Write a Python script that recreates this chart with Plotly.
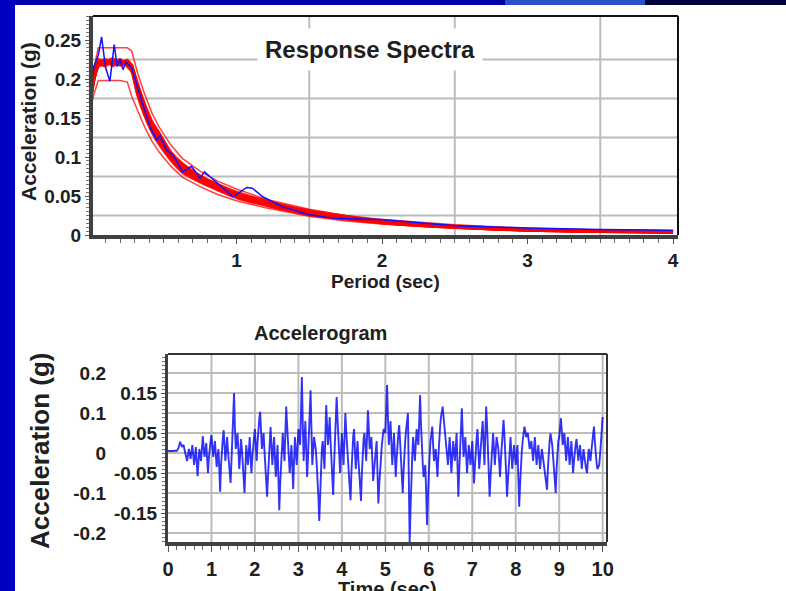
import plotly.graph_objects as go

# ---------------- data: response spectra ----------------
period = [0, 0.02, 0.05, 0.1, 0.15, 0.2, 0.25, 0.28, 0.32, 0.37, 0.42, 0.47, 0.55,
          0.63, 0.75, 0.87, 1.0, 1.2, 1.5, 1.75, 2.0, 2.5, 3.0, 3.5, 4.0]

spec_upper = [0.195, 0.215, 0.24, 0.24, 0.24, 0.24, 0.24, 0.236, 0.208, 0.18, 0.156, 0.138, 0.115,
              0.098, 0.082, 0.069, 0.059, 0.046, 0.033, 0.025, 0.020, 0.013, 0.0085, 0.0065, 0.0055]
spec_lower = [0.165, 0.18, 0.198, 0.198, 0.198, 0.198, 0.196, 0.178, 0.16, 0.138, 0.12, 0.106, 0.088,
              0.074, 0.062, 0.052, 0.044, 0.035, 0.024, 0.018, 0.014, 0.0085, 0.0055, 0.004, 0.003]

red_1 = [0.18, 0.205, 0.222, 0.219, 0.224, 0.218, 0.221, 0.216, 0.194, 0.165, 0.142, 0.129, 0.104,
         0.09, 0.075, 0.064, 0.053, 0.043, 0.03, 0.023, 0.0175, 0.011, 0.0068, 0.0052, 0.0042]
red_2 = [0.175, 0.198, 0.218, 0.224, 0.217, 0.223, 0.219, 0.212, 0.18, 0.153, 0.132, 0.116, 0.096,
         0.08, 0.068, 0.058, 0.048, 0.038, 0.026, 0.0205, 0.0155, 0.0098, 0.006, 0.0045, 0.0034]
red_3 = [0.185, 0.202, 0.225, 0.221, 0.22, 0.225, 0.216, 0.21, 0.19, 0.16, 0.139, 0.125, 0.101,
         0.086, 0.073, 0.063, 0.051, 0.042, 0.028, 0.022, 0.0165, 0.0105, 0.0065, 0.0049, 0.0038]
red_4 = [0.178, 0.2, 0.216, 0.222, 0.226, 0.219, 0.223, 0.218, 0.186, 0.156, 0.134, 0.119, 0.098,
         0.082, 0.07, 0.06, 0.049, 0.039, 0.027, 0.021, 0.016, 0.01, 0.0062, 0.0046, 0.0036]
red_5 = [0.182, 0.207, 0.221, 0.225, 0.219, 0.22, 0.224, 0.214, 0.192, 0.167, 0.145, 0.13, 0.106,
         0.091, 0.076, 0.065, 0.055, 0.044, 0.031, 0.024, 0.018, 0.0115, 0.0072, 0.0055, 0.0044]
red_6 = [0.176, 0.2, 0.219, 0.217, 0.223, 0.221, 0.218, 0.215, 0.184, 0.158, 0.137, 0.122, 0.1,
         0.084, 0.071, 0.061, 0.05, 0.04, 0.0285, 0.0215, 0.0165, 0.0103, 0.0066, 0.005, 0.004]
red_7 = [0.179, 0.203, 0.22, 0.223, 0.221, 0.224, 0.22, 0.217, 0.189, 0.162, 0.141, 0.127, 0.103,
         0.088, 0.074, 0.062, 0.052, 0.041, 0.029, 0.0225, 0.017, 0.0108, 0.007, 0.0053, 0.0041]
red_8 = [0.177, 0.199, 0.217, 0.22, 0.222, 0.218, 0.222, 0.211, 0.182, 0.155, 0.135, 0.121, 0.097,
         0.083, 0.069, 0.059, 0.049, 0.039, 0.027, 0.021, 0.0158, 0.0098, 0.0061, 0.0046, 0.0035]
red_spectra = [red_1, red_2, red_3, red_4, red_5, red_6, red_7, red_8]

blue_period = [0.0, 0.02, 0.05, 0.073, 0.1, 0.13, 0.16, 0.18, 0.2, 0.22, 0.24, 0.28, 0.35, 0.405,
               0.45, 0.474, 0.52, 0.565, 0.63, 0.69, 0.75, 0.78, 0.86, 0.976, 1.07, 1.11, 1.18,
               1.32, 1.5, 1.69, 2.0, 2.5, 3.0, 3.5, 4.0]
blue_spec = [0.19, 0.216, 0.23, 0.254, 0.215, 0.197, 0.244, 0.216, 0.225, 0.212, 0.222, 0.214,
             0.171, 0.139, 0.122, 0.127, 0.109, 0.102, 0.081, 0.088, 0.073, 0.081, 0.068, 0.049,
             0.061, 0.06, 0.049, 0.036, 0.026, 0.021, 0.02, 0.012, 0.009, 0.007, 0.006]

spec_xticks = [1, 2, 3, 4]
spec_yticks = [0, 0.05, 0.1, 0.15, 0.2, 0.25]
spec_yticktext = ["0", "0.05", "0.1", "0.15", "0.2", "0.25"]

# ---------------- data: accelerogram ----------------
# samples on the 0.04 s grid (t = 0, 0.04, ... 10.0)
dt = 0.04
accel = [
    0.005, 0.005, 0.005, 0.004, 0.006, 0.005, 0.012, 0.028, 0.015, 0.02, -0.005, -0.02, 0.01,
    -0.015, 0.02, -0.03, 0.015, -0.058, 0.01, -0.02, 0.042, -0.01, 0.025, -0.05, 0.02,
    0.045, -0.01, 0.03, -0.035, 0.01, -0.097, 0.02, 0.057, -0.02, 0.04, -0.03, -0.075, 0.03,
    0.15, 0.01, 0.05, -0.04, 0.035, -0.02, -0.1, 0.02, -0.03, 0.04, -0.05, 0.025,
    0.06, -0.02, 0.07, 0.103, 0.01, 0.05, -0.04, -0.109, -0.02, 0.065, -0.03, 0.04, -0.06,
    0.02, -0.143, -0.03, 0.05, -0.02, 0.116, 0.03, -0.05, 0.02, -0.09, 0.04, -0.03,
    0.06, 0.02, 0.19, -0.02, 0.08, -0.06, 0.03, 0.157, -0.03, 0.04, 0.01, -0.06, -0.17,
    -0.01, 0.03, -0.04, 0.12, 0.02, 0.09, -0.03, -0.105, 0.04, 0.14, 0.03, -0.05,
    0.05, -0.03, 0.1, 0.01, -0.05, -0.118, 0.02, 0.06, -0.04, 0.03, -0.06, -0.12, 0.02,
    0.05, -0.02, 0.107, 0.01, 0.04, -0.07, -0.02, 0.03, -0.126, -0.04, 0.02, 0.06,
    0.05, 0.17, 0.02, 0.08, -0.03, 0.05, -0.06, 0.03, 0.07, -0.02, -0.1, 0.01, 0.06,
    0.1, -0.225, -0.05, 0.04, -0.02, 0.06, 0.02, 0.145, 0.01, -0.06, -0.03, -0.18,
    -0.04, 0.03, 0.066, -0.02, 0.01, -0.06, 0.04, 0.09, 0.116, 0.06, 0.02, -0.03, 0.04,
    -0.05, 0.03, -0.02, 0.05, -0.109, 0.02, 0.112, -0.01, 0.04, -0.05, 0.02, -0.03,
    0.03, -0.076, 0.01, 0.06, -0.04, 0.02, 0.08, -0.03, 0.116, 0.02, -0.109, -0.01, 0.05,
    -0.03, 0.04, 0.01, -0.06, 0.03, 0.083, 0.01, -0.109, -0.02, 0.04, -0.04, 0.02,
    -0.03, 0.02, -0.134, -0.02, 0.03, 0.066, 0.04, 0.05, 0.01, 0.03, -0.02, 0.04, -0.03,
    0.02, -0.04, 0.01, -0.02, -0.06, -0.092, 0.01, 0.049, 0.02, -0.04, -0.1, 0.02,
    0.04, 0.087, 0.02, 0.05, -0.02, 0.04, -0.03, 0.03, -0.05, 0.01, 0.035, -0.02, 0.02,
    -0.04, 0.01, -0.03, -0.05, 0.01, -0.02, 0.03, 0.066, -0.01, -0.04, -0.03, 0.02, 0.09,
]
# samples half-way between (t = 0.02, 0.06, ... 9.98)
accel_mid = [
    0.005, 0.005, 0.004, 0.005, 0.005, 0.008, 0.02, 0.022, 0.018, 0.008, -0.012, -0.005, -0.002,
    0.003, -0.005, -0.01, -0.02, -0.025, -0.005, 0.01, 0.015, 0.008, -0.015, -0.012, 0.03,
    0.02, 0.01, -0.003, -0.01, -0.04, -0.03, 0.035, 0.02, 0.01, 0.005, -0.05, -0.02, 0.08,
    0.06, 0.03, 0.005, -0.005, 0.01, -0.06, -0.04, -0.005, 0.005, -0.01, -0.01, 0.04,
    0.02, 0.025, 0.085, 0.05, 0.03, 0.005, -0.07, -0.06, 0.02, 0.02, 0.005, -0.01, -0.02,
    -0.06, -0.08, 0.01, 0.015, 0.05, 0.07, -0.01, -0.015, -0.035, -0.02, 0.005, 0.015,
    0.04, 0.1, 0.08, 0.03, 0.01, -0.015, 0.09, 0.06, 0.005, 0.025, -0.025, -0.11, -0.09,
    0.01, -0.005, 0.04, 0.07, 0.05, 0.03, -0.065, -0.03, 0.09, 0.085, -0.01, 0.0,
    0.01, 0.035, 0.055, -0.02, -0.085, -0.05, 0.04, 0.01, -0.005, -0.015, -0.09, -0.05, 0.035,
    0.015, 0.045, 0.06, 0.025, -0.015, -0.045, 0.005, -0.05, -0.08, -0.01, 0.04, 0.055,
    0.11, 0.09, 0.05, 0.025, 0.01, -0.005, -0.015, 0.05, 0.025, -0.06, -0.045, 0.035, 0.08,
    -0.06, -0.14, -0.005, 0.01, 0.02, 0.04, 0.08, 0.075, -0.025, -0.045, -0.1, -0.11,
    -0.005, 0.048, 0.02, -0.005, -0.025, -0.01, 0.065, 0.105, 0.09, 0.04, -0.005, 0.005, -0.005,
    -0.01, 0.005, 0.015, -0.03, -0.045, 0.065, 0.05, 0.015, -0.005, -0.015, -0.005, 0.0,
    -0.025, -0.035, 0.035, 0.01, -0.01, 0.05, 0.025, 0.045, 0.07, -0.045, -0.06, 0.02, 0.01,
    0.005, 0.025, -0.025, -0.015, 0.055, 0.045, -0.05, -0.065, 0.01, 0.0, -0.01, -0.005,
    -0.005, -0.06, -0.08, 0.005, 0.05, 0.055, 0.045, 0.03, 0.02, 0.005, 0.01, 0.005, -0.005,
    -0.01, -0.015, -0.005, -0.04, -0.075, -0.04, 0.03, 0.035, -0.01, -0.07, -0.04, 0.03,
    0.065, 0.055, 0.035, 0.015, 0.01, 0.005, 0.0, -0.01, -0.02, 0.022, 0.008, 0.0, -0.01,
    -0.015, -0.01, -0.04, -0.02, -0.005, 0.005, 0.048, 0.03, -0.025, -0.035, -0.005, 0.055,
]
acc_t, acc_v = [], []
for i, v in enumerate(accel):
    acc_t.append(round(i * dt, 2))
    acc_v.append(v)
    if i < len(accel_mid):
        acc_t.append(round(i * dt + dt / 2, 2))
        acc_v.append(accel_mid[i])

acc_xticks = list(range(0, 11))
acc_inner_ticks = [0.15, 0.05, -0.05, -0.15]
acc_inner_text = ["0.15", "0.05", "-0.05", "-0.15"]
acc_outer_ticks = [0.2, 0.1, 0, -0.1, -0.2]
acc_outer_text = ["0.2", "0.1", "0", "-0.1", "-0.2"]

# ---------------- figure ----------------
W, H = 786, 591
FONT = "Liberation Sans, Arial, sans-serif"
TXT = "#202020"


def px(x):
    return x / W


def py(y):
    return 1 - y / H


fig = go.Figure()

for r in red_spectra:
    fig.add_trace(go.Scatter(x=period, y=r, mode="lines", xaxis="x", yaxis="y",
                             line=dict(color="rgba(255,0,0,0.9)", width=3, shape="spline",
                                       smoothing=0.6),
                             showlegend=False, hoverinfo="skip"))
for b in (spec_upper, spec_lower):
    fig.add_trace(go.Scatter(x=period, y=b, mode="lines", xaxis="x", yaxis="y",
                             line=dict(color="rgba(255,0,0,0.75)", width=1.5),
                             showlegend=False, hoverinfo="skip"))
fig.add_trace(go.Scatter(x=blue_period, y=blue_spec, mode="lines", xaxis="x", yaxis="y",
                         line=dict(color="#1010ff", width=1.5),
                         showlegend=False, hoverinfo="skip"))

fig.add_trace(go.Scatter(x=acc_t, y=acc_v, mode="lines", xaxis="x2", yaxis="y2",
                         line=dict(color="rgba(0,0,245,0.8)", width=1.9),
                         showlegend=False, hoverinfo="skip"))
# empty carrier so the outer label axis is drawn
fig.add_trace(go.Scatter(x=[None], y=[None], xaxis="x2", yaxis="y3",
                         showlegend=False, hoverinfo="skip"))

tickfont = dict(family=FONT, size=19, color=TXT, weight="bold")

fig.update_layout(
    width=W, height=H,
    margin=dict(l=0, r=0, t=0, b=0, autoexpand=False),
    paper_bgcolor="white", plot_bgcolor="white",
    showlegend=False,
    xaxis=dict(domain=[px(93), px(678)], range=[0.014, 4.034], anchor="y",
               tickvals=spec_xticks, ticks="outside", ticklen=5, tickcolor="#555",
               tickfont=tickfont, showgrid=False, zeroline=False,
               showline=True, linecolor="#404040", linewidth=4,
               minor=dict(dtick=0.1, tick0=0, ticks="outside", ticklen=4,
                          tickcolor="#666", showgrid=False)),
    yaxis=dict(domain=[py(235), py(16)], range=[0, 0.2808], anchor="x",
               tickvals=spec_yticks, ticktext=spec_yticktext, ticks="outside", ticklen=4,
               tickcolor="#555", tickfont=tickfont, showgrid=False, zeroline=False,
               showline=True, linecolor="#404040", linewidth=4,
               minor=dict(dtick=0.005, tick0=0, ticks="outside", ticklen=3,
                          tickcolor="#777", showgrid=False)),
    xaxis2=dict(domain=[px(168), px(607)], range=[0, 10.1], anchor="y2",
                tickvals=acc_xticks, ticks="outside", ticklen=6, tickcolor="#555",
                tickfont=dict(family=FONT, size=20, color=TXT, weight="bold"),
                showgrid=False, zeroline=False,
                showline=True, linecolor="#404040", linewidth=4,
                minor=dict(dtick=0.2, tick0=0, ticks="outside", ticklen=4,
                           tickcolor="#666", showgrid=False)),
    yaxis2=dict(domain=[py(542), py(354)], range=[-0.2225, 0.2475], anchor="x2",
                tickvals=acc_inner_ticks, ticktext=acc_inner_text, ticks="outside",
                ticklen=4, tickcolor="#555",
                tickfont=dict(family=FONT, size=19, color=TXT, weight="bold"),
                showgrid=False, zeroline=False,
                showline=True, linecolor="#404040", linewidth=3,
                minor=dict(dtick=0.01, tick0=0, ticks="outside", ticklen=3,
                           tickcolor="#777", showgrid=False)),
    yaxis3=dict(overlaying="y2", anchor="free", position=px(106), side="left",
                range=[-0.2225, 0.2475], tickvals=acc_outer_ticks, ticktext=acc_outer_text,
                ticks="", showline=False, showgrid=False, zeroline=False,
                tickfont=dict(family=FONT, size=19, color=TXT, weight="bold")),
)

shapes = []
# slide decoration
shapes.append(dict(type="rect", xref="paper", yref="paper", x0=0, x1=1, y0=py(5), y1=1,
                   fillcolor="#0000A8", line=dict(width=0), layer="above"))
shapes.append(dict(type="rect", xref="paper", yref="paper", x0=px(505), x1=px(645), y0=py(5),
                   y1=1, fillcolor="#2C50C8", line=dict(width=0), layer="above"))
shapes.append(dict(type="rect", xref="paper", yref="paper", x0=px(645), x1=1, y0=py(5), y1=1,
                   fillcolor="#00003C", line=dict(width=0), layer="above"))
shapes.append(dict(type="rect", xref="paper", yref="paper", x0=0, x1=px(15), y0=0, y1=1,
                   fillcolor="#0000C0", line=dict(width=0), layer="above"))

GRID = dict(color="#bcbcbc", width=2)
# spectra grid
for gx in [1.5, 2.5, 3.5]:
    shapes.append(dict(type="line", xref="x", yref="y domain", x0=gx, x1=gx, y0=0, y1=1,
                       line=GRID, layer="below"))
for gy in [0.025, 0.075, 0.125, 0.175, 0.225]:
    shapes.append(dict(type="line", xref="x domain", yref="y", x0=0, x1=1, y0=gy, y1=gy,
                       line=GRID, layer="below"))
# accelerogram grid
for gx in range(1, 11):
    shapes.append(dict(type="line", xref="x2", yref="y2 domain", x0=gx, x1=gx, y0=0, y1=1,
                       line=GRID, layer="below"))
for gy in [-0.2, -0.15, -0.1, -0.05, 0, 0.05, 0.1, 0.15, 0.2]:
    shapes.append(dict(type="line", xref="x2 domain", yref="y2", x0=0, x1=1, y0=gy, y1=gy,
                       line=GRID, layer="below"))
# frame top/right
for xr, yr, col in (("x domain", "y domain", "#111"), ("x2 domain", "y2 domain", "#333")):
    shapes.append(dict(type="line", xref=xr, yref=yr, x0=0, x1=1, y0=1, y1=1,
                       line=dict(color=col, width=2), layer="above"))
    shapes.append(dict(type="line", xref=xr, yref=yr, x0=1, x1=1, y0=0, y1=1,
                       line=dict(color=col, width=2), layer="above"))
fig.update_layout(shapes=shapes)

ann = []
ann.append(dict(text="Response Spectra", x=px(370), y=py(50), xref="paper", yref="paper",
                showarrow=False, xanchor="center", yanchor="middle", bgcolor="white",
                borderpad=7, font=dict(family=FONT, size=24, color=TXT, weight="bold")))
ann.append(dict(text="Acceleration (g)", x=px(28), y=py(122), xref="paper", yref="paper",
                showarrow=False, textangle=-90, xanchor="center", yanchor="middle",
                font=dict(family=FONT, size=21, color=TXT, weight="bold")))
ann.append(dict(text="Period (sec)", x=px(385), y=py(281), xref="paper", yref="paper",
                showarrow=False, xanchor="center", yanchor="middle",
                font=dict(family=FONT, size=19, color=TXT, weight="bold")))
ann.append(dict(text="Accelerogram", x=px(320), y=py(333), xref="paper", yref="paper",
                showarrow=False, xanchor="center", yanchor="middle",
                font=dict(family=FONT, size=20, color=TXT, weight="bold")))
ann.append(dict(text="Acceleration (g)", x=px(40), y=py(451), xref="paper", yref="paper",
                showarrow=False, textangle=-90, xanchor="center", yanchor="middle",
                font=dict(family=FONT, size=26, color=TXT, weight="bold")))
ann.append(dict(text="Time (sec)", x=px(387), y=py(576), xref="paper", yref="paper",
                showarrow=False, xanchor="center", yanchor="top",
                font=dict(family=FONT, size=20, color=TXT, weight="bold")))
fig.update_layout(annotations=ann)

pin = ("document.documentElement.style.overflow='hidden';"
       "document.body.style.margin='0px';document.body.style.overflow='hidden';"
       "var d=document.getElementById('{plot_id}');"
       "d.style.position='fixed';d.style.left='0px';d.style.top='0px';")
fig.write_html("out.html", config={"displayModeBar": False}, post_script=pin)
